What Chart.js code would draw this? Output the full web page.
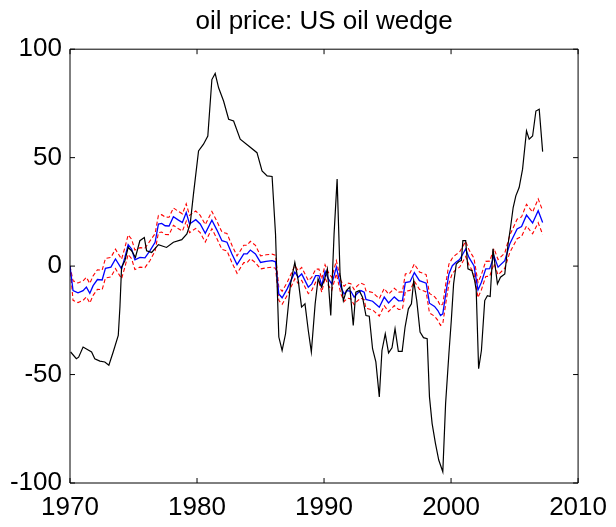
<!DOCTYPE html>
<html lang="en">
  <head>
    <meta charset="UTF-8" />
    <title>oil price: US oil wedge</title>
    <script src="https://cdn.jsdelivr.net/npm/chart.js"></script>
    <style>
      body { margin: 0; background: #fff; }
      #wrap { width: 616px; height: 527px; }
    </style>
  </head>
  <body>
    <div id="wrap"><canvas id="wedgeCanvas" width="616" height="527"></canvas></div>
    <script>
      // tick labels
      const xTicks = [1970, 1980, 1990, 2000, 2010];
      const yTicks = [-100, -50, 0, 50, 100];

      // black line: oil price series (year, value)
      const oilYears = [1970.05,1970.5,1970.68,1971.03,1971.7,1971.95,1972.35,1972.74,1973.06,1973.4,
        1973.8,1973.93,1974.06,1974.32,1974.58,1974.85,1975.15,1975.5,1975.85,1976.03,
        1976.43,1976.96,1977.6,1978.14,1978.8,1979.2,1979.46,1979.72,1980.12,1980.51,
        1980.85,1981.17,1981.43,1981.7,1982.09,1982.49,1982.88,1983.4,1984.07,1984.72,
        1985.12,1985.52,1985.91,1986.18,1986.44,1986.7,1986.97,1987.36,1987.7,1987.97,
        1988.23,1988.5,1988.76,1989.0,1989.3,1989.53,1989.8,1990.05,1990.26,1990.53,
        1990.79,1991.03,1991.26,1991.52,1991.76,1992.03,1992.3,1992.5,1992.77,1993.03,
        1993.3,1993.56,1993.82,1994.08,1994.35,1994.56,1994.82,1995.08,1995.35,1995.59,
        1995.85,1996.15,1996.38,1996.64,1996.88,1997.06,1997.3,1997.56,1997.83,1998.12,
        1998.3,1998.51,1998.77,1999.03,1999.35,1999.57,1999.83,2000.02,2000.2,2000.41,
        2000.62,2000.81,2000.93,2001.15,2001.33,2001.64,2001.86,2001.98,2002.17,2002.39,
        2002.65,2002.86,2003.08,2003.3,2003.65,2003.89,2004.23,2004.49,2004.68,2004.89,
        2005.1,2005.36,2005.63,2005.94,2006.15,2006.42,2006.68,2006.94,2007.21];
      const oilPrice = [-39.6,-42.7,-42,-37.3,-39.6,-42.7,-43.8,-44.2,-45.7,-39.6,
        -32,-19,-0.5,2.5,8.6,7.1,4,11.7,13.2,7.1,
        6.3,9.9,8.6,11,12.2,14.8,19.4,33.2,53.1,56.2,
        60,86,88.8,82.2,76.1,67.7,66.9,58.5,55.4,52.3,
        43.9,41.6,41.3,14.8,-32.7,-38.9,-31.2,-8.2,1.7,-6.7,
        -18.9,-17.4,-29.7,-39.6,-17.4,-5.9,-9.7,-5.9,-1.3,-22.8,
        14.8,40.1,-3.6,-15.9,-11.3,-9.7,-27.4,-12,-11.3,-14.3,
        -22.8,-23.1,-38.1,-44.2,-60.3,-38.9,-31.2,-40,-37.7,-28.9,
        -39.3,-39.3,-28.1,-19.7,-17.4,-6.7,-15.9,-30.4,-33,-33.5,
        -60.3,-72.6,-81.7,-89.4,-94.8,-63.4,-40.4,-25,-8.2,1,
        2.1,2.5,11.7,11.7,-1.3,-2.1,-6.7,-11,-47.3,-38.9,
        -15.9,-13.6,-14,8,-8.2,-5.1,-3.6,10.2,17.8,27,
        32.4,36.2,44.7,62.3,58.5,60,71.5,72.3,52.8];

      // blue line: US oil wedge, with red bands
      const wedgeYears = [1970,1970.24,1970.63,1971.03,1971.29,1971.56,1971.82,1972.16,1972.53,1972.79,
        1973.22,1973.58,1974.06,1974.32,1974.58,1974.85,1975.11,1975.51,1975.9,1976.3,
        1976.7,1976.96,1977.22,1977.49,1977.8,1978.14,1978.54,1978.85,1979.15,1979.41,
        1979.9,1980.25,1980.65,1981.17,1981.57,1981.96,1982.36,1982.75,1983.15,1983.68,
        1983.94,1984.2,1984.6,1985.0,1985.44,1985.91,1986.18,1986.44,1986.7,1987.1,
        1987.7,1987.97,1988.24,1988.76,1989.03,1989.34,1989.6,1989.82,1990.08,1990.34,
        1990.61,1990.97,1991.32,1991.58,1991.84,1992.11,1992.37,1992.63,1992.9,1993.16,
        1993.3,1993.82,1994.35,1994.74,1995.08,1995.53,1995.87,1996.17,1996.4,1996.77,
        1997.11,1997.51,1998.04,1998.3,1998.7,1998.96,1999.17,1999.35,1999.62,1999.83,
        2000.1,2000.36,2000.67,2000.93,2001.15,2001.41,2001.8,2002.12,2002.39,2002.73,
        2003.04,2003.38,2003.7,2004.23,2004.62,2005.2,2005.55,2005.94,2006.42,2006.86,
        2007.21];
      const wedge = [0,-11.3,-12.3,-11.3,-9.7,-12.5,-9,-6.2,-6.4,-1,
        -0.5,3.3,-1.3,4,9.9,7.9,2.9,4,3.8,7.1,
        11,19.4,19.7,18.6,18.5,22.8,21.2,20.1,24.7,19.4,
        21.4,19.4,15.1,21.2,16.6,11.7,11,5.6,0.7,5.6,
        5.6,7.4,5.6,1.7,2.2,2.5,2,-12.8,-14.6,-10.5,
        -2.8,-5.1,-3.6,-9.7,-8.2,-4.4,-4.4,-9,-2.4,-5.9,
        -8.2,-0.5,-9.7,-12.8,-11.3,-11.6,-14.3,-12.5,-11.3,-12,
        -15.4,-16.2,-19,-14.3,-17,-14.2,-16,-15.9,-7.6,-7.2,
        -3,-6.7,-7.9,-17.1,-18.6,-20.5,-22.8,-22,-11.3,-3.6,
        0.2,1.7,3,5.6,7.9,4,0.2,-11,-7.4,-1.3,
        -1.2,4.6,-0.5,2.5,10.2,17.1,18.2,23.5,19.9,25.5,
        20.1];
      const wedgeUpper = [0,-6.8,-7.8,-6.8,-5.2,-8,-4.5,-1.7,-1.9,3.5,
        4,7.8,3.2,8.5,14.4,12.4,7.4,8.5,8.3,11.6,
        15,23.4,23.7,22.6,22.5,26.8,25.2,24.1,28.7,23.4,
        25.4,23.4,19.1,25.2,20.6,15.7,15,9.6,4.7,9.6,
        9.6,11.4,9.6,4.7,5.2,5.5,5,-9.8,-11.6,-7.5,
        0.2,-2.1,-0.6,-6.7,-5.2,-1.4,-1.4,-6,0.6,-2.9,
        -5.2,2.5,-6.7,-9.3,-7.8,-8.1,-10.8,-9,-7.8,-8.5,
        -11.4,-12.2,-15,-10.3,-13,-10.2,-12,-11.9,-3.6,-3.2,
        1,-2.7,-3.9,-12.6,-14.1,-16,-18.3,-17.5,-6.8,0.9,
        3.7,5.2,6.5,9.1,11.4,7.5,3.7,-7.5,-3.9,2.2,
        2.3,8.1,3,6,14.2,21.6,22.7,28.5,24.9,31,
        25.6];
      const wedgeLower = [0,-15.8,-16.8,-15.8,-14.2,-17,-13.5,-10.7,-10.9,-5.5,
        -5,-1.2,-5.8,-0.5,5.4,3.4,-1.6,-0.5,-0.7,2.6,
        7,15.4,15.7,14.6,14.5,18.8,17.2,16.1,20.7,15.4,
        17.4,15.4,11.1,17.2,12.6,7.7,7,1.6,-3.3,1.6,
        1.6,3.4,1.6,-1.3,-0.8,-0.5,-1,-15.8,-17.6,-13.5,
        -5.8,-8.1,-6.6,-12.7,-11.2,-7.4,-7.4,-12,-5.4,-8.9,
        -11.2,-3.5,-12.7,-16.3,-14.8,-15.1,-17.8,-16,-14.8,-15.5,
        -19.4,-20.2,-23,-18.3,-21,-18.2,-20,-19.9,-11.6,-11.2,
        -7,-10.7,-11.9,-21.6,-23.1,-25,-27.3,-26.5,-15.8,-8.1,
        -3.3,-1.8,-0.5,2.1,4.4,0.5,-3.3,-14.5,-10.9,-4.8,
        -4.7,1.1,-4,-1,6.2,12.6,13.7,18.5,14.9,20,
        14.6];

      function points(xs, ys) {
        return xs.map((x, i) => ({ x: x, y: ys[i] }));
      }

      // matlab style box with inward ticks on all four sides
      const boxPlugin = {
        id: "box",
        afterDraw(chart) {
          const ctx = chart.ctx;
          const a = chart.chartArea;
          const xs = chart.scales.x;
          const ys = chart.scales.y;
          const len = 5;
          ctx.save();
          ctx.strokeStyle = "#000";
          ctx.lineWidth = 1;
          ctx.beginPath();
          ctx.rect(a.left, a.top, a.right - a.left, a.bottom - a.top);
          xTicks.forEach((t) => {
            const px = xs.getPixelForValue(t);
            ctx.moveTo(px, a.bottom);
            ctx.lineTo(px, a.bottom - len);
            ctx.moveTo(px, a.top);
            ctx.lineTo(px, a.top + len);
          });
          yTicks.forEach((t) => {
            const py = ys.getPixelForValue(t);
            ctx.moveTo(a.left, py);
            ctx.lineTo(a.left + len, py);
            ctx.moveTo(a.right, py);
            ctx.lineTo(a.right - len, py);
          });
          ctx.stroke();
          ctx.restore();
        },
      };

      Chart.defaults.font.family = "'Liberation Sans', Arial, Helvetica, sans-serif";
      Chart.defaults.color = "#000";

      new Chart(document.getElementById("wedgeCanvas"), {
        type: "line",
        data: {
          datasets: [
            {
              label: "oil price",
              data: points(oilYears, oilPrice),
              borderColor: "#000",
              borderWidth: 1.2,
              pointRadius: 0,
            },
            {
              label: "wedge",
              data: points(wedgeYears, wedge),
              borderColor: "#0000ff",
              borderWidth: 1.3,
              pointRadius: 0,
            },
            {
              label: "upper",
              data: points(wedgeYears, wedgeUpper),
              borderColor: "#ff0000",
              borderWidth: 1.1,
              borderDash: [4, 2.5],
              pointRadius: 0,
            },
            {
              label: "lower",
              data: points(wedgeYears, wedgeLower),
              borderColor: "#ff0000",
              borderWidth: 1.1,
              borderDash: [4, 2.5],
              pointRadius: 0,
            },
          ],
        },
        options: {
          responsive: false,
          animation: false,
          devicePixelRatio: 1,
          layout: { padding: { left: 0, right: 35, top: 0, bottom: 0 } },
          plugins: {
            legend: { display: false },
            tooltip: { enabled: false },
            title: {
              display: true,
              fullSize: false, // centre over the axes, not the canvas
              text: "oil price: US oil wedge",
              font: { size: 26, weight: "normal" },
              color: "#000",
              padding: { top: 6, bottom: 12 },
            },
          },
          scales: {
            x: {
              type: "linear",
              min: 1970,
              max: 2010,
              afterBuildTicks: (s) => { s.ticks = xTicks.map((v) => ({ value: v })); },
              ticks: { font: { size: 26 }, padding: 9, maxRotation: 0, callback: (v) => String(v) },
              grid: { display: false, drawTicks: false },
              border: { display: false },
              afterFit: (s) => { s.height = 44; },
            },
            y: {
              type: "linear",
              min: -100,
              max: 100,
              afterBuildTicks: (s) => { s.ticks = yTicks.map((v) => ({ value: v })); },
              ticks: { font: { size: 26 }, padding: 8, callback: (v) => String(v) },
              grid: { display: false, drawTicks: false },
              border: { display: false },
              afterFit: (s) => { s.width = 70; },
            },
          },
        },
        plugins: [boxPlugin],
      });
    </script>
  </body>
</html>
